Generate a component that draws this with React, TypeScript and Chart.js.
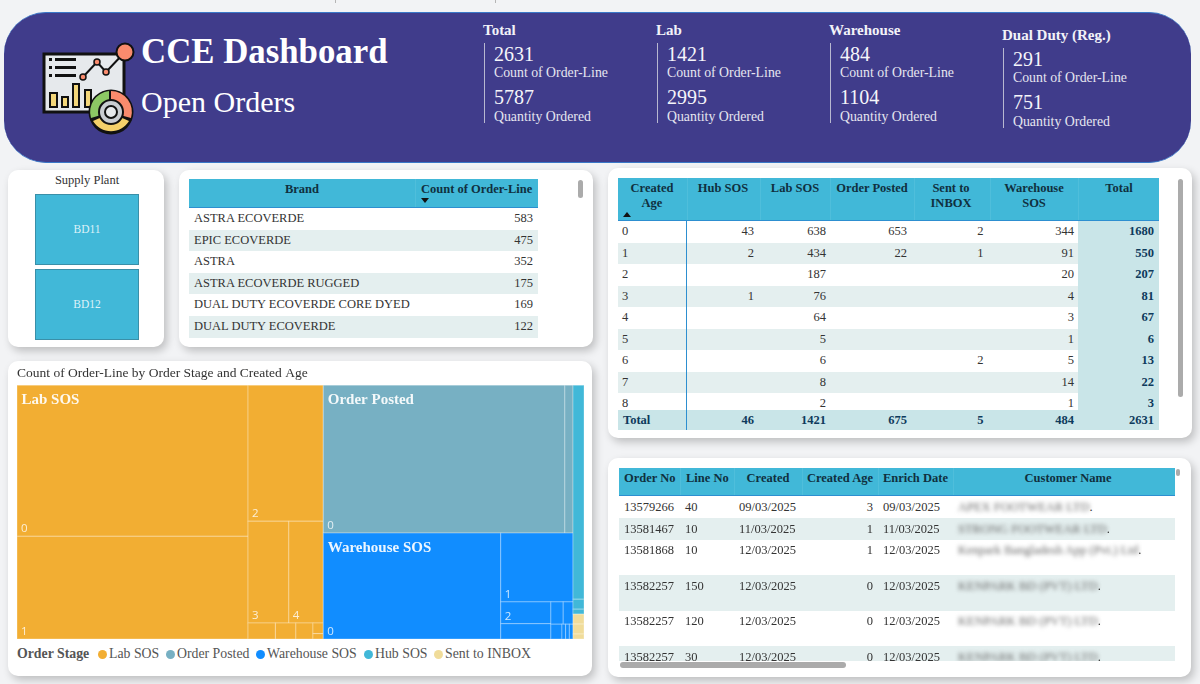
import { useEffect, useRef } from 'react';
import type { CSSProperties, ReactNode } from 'react';
import { Chart, registerables } from 'chart.js';

Chart.register(...registerables);

const SERIF = '"Liberation Serif", "Times New Roman", serif';
const SANS = '"Open Sans", sans-serif';

// header kpis
const kpiTitles = ['Total', 'Lab', 'Warehouse', 'Dual Duty (Reg.)'];
const kpiCounts = [2631, 1421, 484, 291];
const kpiQuantities = [5787, 2995, 1104, 751];

// brand table
const brandNames = ['ASTRA ECOVERDE', 'EPIC ECOVERDE', 'ASTRA', 'ASTRA ECOVERDE RUGGED', 'DUAL DUTY ECOVERDE CORE DYED', 'DUAL DUTY ECOVERDE'];
const brandCounts = [583, 475, 352, 175, 169, 122];
const supplyPlants = ['BD11', 'BD12'];

// matrix
const matrixAges = ['0', '1', '2', '3', '4', '5', '6', '7', '8'];
const matrixHub = ['43', '2', '', '1', '', '', '', '', ''];
const matrixLab = ['638', '434', '187', '76', '64', '5', '6', '8', '2'];
const matrixPosted = ['653', '22', '', '', '', '', '', '', ''];
const matrixInbox = ['2', '1', '', '', '', '', '2', '', ''];
const matrixWarehouse = ['344', '91', '20', '4', '3', '1', '5', '14', '1'];
const matrixTotal = ['1680', '550', '207', '81', '67', '6', '13', '22', '3'];
const matrixFooter = ['46', '1421', '675', '5', '484', '2631'];

// order detail table
const orderNumbers = ['13579266', '13581467', '13581868', '13582257', '13582257', '13582257'];
const lineNumbers = ['40', '10', '10', '150', '120', '30'];
const createdDates = ['09/03/2025', '11/03/2025', '12/03/2025', '12/03/2025', '12/03/2025', '12/03/2025'];
const createdAges = ['3', '1', '1', '0', '0', '0'];
const enrichDates = ['09/03/2025', '11/03/2025', '12/03/2025', '12/03/2025', '12/03/2025', '12/03/2025'];
const customers = ['APEX FOOTWEAR LTD', 'STRONG FOOTWEAR LTD', 'Kenpark Bangladesh App (Pvt.) Ltd', 'KENPARK BD (PVT) LTD', 'KENPARK BD (PVT) LTD', 'KENPARK BD (PVT) LTD'];

// treemap
const stageNames = ['Lab SOS', 'Order Posted', 'Warehouse SOS', 'Hub SOS', 'Sent to INBOX'];
const stageColors = ['#F2AE33', '#77B0C3', '#118DFF', '#41B8D8', '#F0DC9A'];
const labAges = ['0', '1', '2', '3', '4', '7', '6', '5', '8', '9'];
const labCounts = [638, 434, 187, 76, 64, 8, 6, 5, 2, 1];
const postedAges = ['0', '1'];
const postedCounts = [653, 22];
const warehouseAges = ['0', '1', '2', '7', '6', '3', '4', '5', '8', '9'];
const warehouseCounts = [344, 91, 20, 14, 5, 4, 3, 1, 1, 1];
const hubAges = ['0', '1', '3'];
const hubCounts = [43, 2, 1];
const inboxAges = ['0', '6', '1'];
const inboxCounts = [2, 2, 1];

// how the cells nest: a number is a leaf index, 'h' splits left to right, 'v' top to bottom
type Split = number | { dir: 'h' | 'v'; kids: Split[] };
const h = (...kids: Split[]): Split => ({ dir: 'h', kids });
const v = (...kids: Split[]): Split => ({ dir: 'v', kids });

const stageSplit = h(0, v(1, 2), v(3, 4));
const labSplit = h(v(0, 1), v(2, h(3, 4), h(5, 6, 7, v(8, 9))));
const postedSplit = h(0, 1);
const warehouseSplit = h(0, v(1, h(v(2, 3), v(h(4, 5), h(6, 7, 8, 9)))));
const hubSplit = v(0, 1, 2);
const inboxSplit = v(0, 1, 2);

const stageLeaves = [
  { ages: labAges, counts: labCounts, split: labSplit },
  { ages: postedAges, counts: postedCounts, split: postedSplit },
  { ages: warehouseAges, counts: warehouseCounts, split: warehouseSplit },
  { ages: hubAges, counts: hubCounts, split: hubSplit },
  { ages: inboxAges, counts: inboxCounts, split: inboxSplit },
];

interface Box { x0: number; x1: number; y0: number; y1: number }

function splitSum(s: Split, vals: number[]): number {
  if (typeof s === 'number') return vals[s];
  return s.kids.reduce((a, k) => a + splitSum(k, vals), 0);
}

function layout(s: Split, vals: number[], box: Box, out: Map<number, Box>) {
  if (typeof s === 'number') {
    out.set(s, box);
    return;
  }
  const total = splitSum(s, vals);
  let pos = s.dir === 'h' ? box.x0 : box.y0;
  const span = s.dir === 'h' ? box.x1 - box.x0 : box.y1 - box.y0;
  s.kids.forEach((k) => {
    const next = pos + (span * splitSum(k, vals)) / total;
    layout(k, vals, s.dir === 'h' ? { ...box, x0: pos, x1: next } : { ...box, y0: pos, y1: next }, out);
    pos = next;
  });
}

function treemapDatasets() {
  const stageTotals = stageLeaves.map((s) => s.counts.reduce((a, b) => a + b, 0));
  const stageBoxes = new Map<number, Box>();
  layout(stageSplit, stageTotals, { x0: 0, x1: 1, y0: 0, y1: 1 }, stageBoxes);
  return stageNames.map((name, i) => {
    const cells = new Map<number, Box>();
    layout(stageLeaves[i].split, stageLeaves[i].counts, stageBoxes.get(i) as Box, cells);
    return {
      label: name,
      pointRadius: 0,
      backgroundColor: stageColors[i],
      data: stageLeaves[i].ages.map((age, j) => {
        const b = cells.get(j) as Box;
        return { x: (b.x0 + b.x1) / 2, y: (b.y0 + b.y1) / 2, age, ...b };
      }),
    };
  });
}

const treemapPlugin = {
  id: 'treemapCells',
  beforeDatasetsDraw(chart: any) {
    const { ctx, scales } = chart;
    const sx = (n: number) => scales.x.getPixelForValue(n);
    const sy = (n: number) => scales.y.getPixelForValue(n);
    ctx.save();
    chart.data.datasets.forEach((ds: any) => {
      ds.data.forEach((c: any) => {
        const x = sx(c.x0);
        const y = sy(c.y0);
        const w = sx(c.x1) - x;
        const ht = sy(c.y1) - y;
        ctx.fillStyle = ds.backgroundColor;
        ctx.fillRect(x, y, w, ht);
        ctx.strokeStyle = 'rgba(255,255,255,0.3)';
        ctx.lineWidth = 1;
        ctx.strokeRect(x, y, w, ht);
        if (w >= 25 && ht >= 20) {
          ctx.fillStyle = 'rgba(255,255,255,0.8)';
          ctx.font = `11.5px ${SANS}`;
          ctx.textAlign = 'left';
          ctx.textBaseline = 'alphabetic';
          ctx.fillText(c.age, x + 4, y + ht - 4);
        }
      });
    });
    // stage names go over the cells
    chart.data.datasets.slice(0, 3).forEach((ds: any) => {
      const x = Math.min(...ds.data.map((c: any) => sx(c.x0)));
      const y = Math.min(...ds.data.map((c: any) => sy(c.y0)));
      ctx.fillStyle = 'rgba(255,255,255,0.92)';
      ctx.font = `bold 15px ${SERIF}`;
      ctx.textAlign = 'left';
      ctx.textBaseline = 'alphabetic';
      ctx.fillText(ds.label, x + 4.5, y + 19);
    });
    ctx.restore();
  },
};

function TreemapChart() {
  const canvasRef = useRef<HTMLCanvasElement>(null);

  useEffect(() => {
    if (!canvasRef.current) return;
    const chart = new Chart(canvasRef.current, {
      type: 'scatter',
      data: { datasets: treemapDatasets() as any },
      options: {
        animation: false,
        responsive: true,
        maintainAspectRatio: false,
        layout: { padding: 0 },
        scales: {
          x: { display: false, min: 0, max: 1 },
          y: { display: false, min: 0, max: 1, reverse: true },
        },
        plugins: {
          legend: { display: false },
          tooltip: { enabled: false },
          title: {
            display: true,
            text: 'Count of Order-Line by Order Stage and Created Age',
            align: 'start',
            color: '#333333',
            font: { family: SERIF, size: 13.5, weight: 'normal', lineHeight: 1.2 },
            padding: { top: 0, bottom: 4 },
          },
        },
      },
      plugins: [treemapPlugin],
    });
    return () => chart.destroy();
  }, []);

  return (
    <div style={{ position: 'absolute', left: 17, top: 365, width: 567, height: 274 }}>
      <canvas ref={canvasRef} />
    </div>
  );
}

function Txt(props: { x: number; y: number; align?: 'left' | 'right' | 'center'; size?: number; bold?: boolean; color?: string; children: ReactNode; style?: CSSProperties }) {
  const { x, y, align = 'left', size = 12.5, bold, color = '#333', children, style } = props;
  const tx = align === 'left' ? '0' : align === 'right' ? '-100%' : '-50%';
  return (
    <div style={{ position: 'absolute', left: x, top: y, transform: `translate(${tx}, -50%)`, fontSize: size, fontWeight: bold ? 700 : 400, color, whiteSpace: 'nowrap', lineHeight: 1, ...style }}>
      {children}
    </div>
  );
}

function Rect({ x, y, w, ht, bg, style }: { x: number; y: number; w: number; ht: number; bg: string; style?: CSSProperties }) {
  return <div style={{ position: 'absolute', left: x, top: y, width: w, height: ht, background: bg, ...style }} />;
}

function Card({ x, y, w, ht }: { x: number; y: number; w: number; ht: number }) {
  return <Rect x={x} y={y} w={w} ht={ht} bg="#fff" style={{ borderRadius: 10, boxShadow: '3px 4px 9px rgba(0,0,0,0.22)' }} />;
}

const HEAD = '#41B8D8';
const ALT = '#E4EFEF';
const TOTAL_BG = '#C9E5E8';
const HEAD_TEXT = '#10303F';
const NAVY = '#0E3A5C';

function Icon() {
  return (
    <svg width="200" height="150" style={{ position: 'absolute', left: 0, top: 0 }}>
      <rect x="44" y="54" width="80" height="58" fill="#E6E9EC" stroke="#111" strokeWidth="3" />
      {[66, 74, 82].map((y) => (
        <g key={y}>
          <rect x="49" y={y - 8} width="3" height="3" fill="#111" />
          <rect x="55" y={y - 8} width="21" height="3" fill="#111" />
        </g>
      ))}
      <rect x="50" y="93" width="7" height="14" fill="#F4D77A" stroke="#111" strokeWidth="2" />
      <rect x="62" y="97" width="6" height="10" fill="#F4D77A" stroke="#111" strokeWidth="2" />
      <rect x="73" y="84" width="6" height="23" fill="#F4D77A" stroke="#111" strokeWidth="2" />
      <rect x="85" y="90" width="6" height="17" fill="#F4D77A" stroke="#111" strokeWidth="2" />
      <polyline points="83,77 97,62 106,72 124,53" fill="none" stroke="#111" strokeWidth="2" />
      <circle cx="83" cy="77" r="3" fill="#F98B6D" stroke="#111" strokeWidth="1.5" />
      <circle cx="97" cy="62" r="3" fill="#F98B6D" stroke="#111" strokeWidth="1.5" />
      <circle cx="106" cy="72" r="3" fill="#F98B6D" stroke="#111" strokeWidth="1.5" />
      <circle cx="125" cy="52" r="8.5" fill="#F98B6D" stroke="#111" strokeWidth="2" />
      <circle cx="111" cy="112" r="22.5" fill="#111" />
      <path d="M111 91 A21 21 0 0 1 131 118 L120 115 A10 10 0 0 0 111 102 Z" fill="#F98B6D" />
      <path d="M91 118 A21 21 0 0 1 109 91 L109 102 A10 10 0 0 0 101 115 Z" fill="#8CC864" />
      <path d="M93 121 A21 21 0 0 0 129 121 L120 117 A10 10 0 0 1 102 117 Z" fill="#F4D06A" />
      <circle cx="111" cy="112" r="12" fill="#C9CDD2" stroke="#111" strokeWidth="2" />
      <circle cx="111" cy="112" r="6" fill="#E6E9EC" stroke="#111" strokeWidth="2" />
    </svg>
  );
}

function Header() {
  const xs = [484, 657, 830, 1003];
  return (
    <>
      <div style={{ position: 'absolute', left: 4, top: 12, width: 1187, height: 151, background: '#403C8B', borderRadius: 42, borderTop: '1px solid #3A78C8', borderBottom: '1px solid #3A78C8', boxSizing: 'border-box' }} />
      <Icon />
      <Txt x={141} y={52} size={34.8} bold color="#fff">CCE Dashboard</Txt>
      <Txt x={141} y={102} size={30} color="#fff">Open Orders</Txt>
      {kpiTitles.map((t, i) => {
        const x = xs[i];
        const dy = i === 3 ? 5 : 0;
        const c = '#E6E6F0';
        return (
          <div key={t}>
            <Txt x={x - 1} y={30 + dy} size={15} bold color="#F2F2F8">{t}</Txt>
            <Rect x={x} y={43 + dy} w={1} ht={80} bg="#B8B8D0" />
            <Txt x={x + 10} y={54 + dy} size={20} color="#F5F5FA">{kpiCounts[i]}</Txt>
            <Txt x={x + 10} y={73 + dy} size={13.8} color={c}>Count of Order-Line</Txt>
            <Txt x={x + 10} y={97 + dy} size={20} color="#F5F5FA">{kpiQuantities[i]}</Txt>
            <Txt x={x + 10} y={117 + dy} size={13.8} color={c}>Quantity Ordered</Txt>
          </div>
        );
      })}
    </>
  );
}

function SupplyPlant() {
  return (
    <>
      <Card x={8} y={170} w={156} ht={177} />
      <Txt x={87} y={180} align="center" size={12.5}>Supply Plant</Txt>
      {supplyPlants.map((p, i) => (
        <div key={p}>
          <Rect x={35} y={194 + i * 75} w={104} ht={71} bg={HEAD} style={{ border: '1px solid #3A8FA8', boxSizing: 'border-box' }} />
          <Txt x={87} y={229.5 + i * 75} align="center" size={11.5} color="#DDF2F8">{p}</Txt>
        </div>
      ))}
    </>
  );
}

function BrandTable() {
  const rowH = 21.6;
  return (
    <>
      <Card x={179} y={170} w={414} ht={177} />
      <Rect x={189} y={179} w={349} ht={29} bg={HEAD} style={{ borderBottom: '1px solid #2D8FD0', boxSizing: 'border-box' }} />
      <Rect x={415} y={179} w={1} ht={28} bg="#4FBEDB" />
      <Txt x={302} y={188.5} align="center" bold color={HEAD_TEXT}>Brand</Txt>
      <Txt x={421} y={188.5} bold color={HEAD_TEXT}>Count of Order-Line</Txt>
      <div style={{ position: 'absolute', left: 421, top: 198, width: 0, height: 0, borderLeft: '4px solid transparent', borderRight: '4px solid transparent', borderTop: '5px solid #111' }} />
      {brandNames.map((b, i) => (
        <div key={b}>
          <Rect x={189} y={208 + i * rowH} w={349} ht={rowH} bg={i % 2 ? ALT : '#fff'} />
          <Txt x={194} y={218 + i * rowH}>{b}</Txt>
          <Txt x={533} y={218 + i * rowH} align="right">{brandCounts[i]}</Txt>
        </div>
      ))}
      <Rect x={578} y={180} w={5} ht={18} bg="#ABABAB" style={{ borderRadius: 3 }} />
    </>
  );
}

function Matrix() {
  const rowH = 21.5;
  const top = 221;
  const cols = [matrixHub, matrixLab, matrixPosted, matrixInbox, matrixWarehouse];
  const rights = [754, 826, 907, 983.5, 1074, 1154];
  return (
    <>
      <Card x={608} y={168} w={584} ht={270} />
      <Rect x={618} y={178} w={541} ht={43} bg={HEAD} style={{ borderBottom: '1px solid #2D8FD0', boxSizing: 'border-box' }} />
      {[687, 760, 830, 914, 990, 1078].map((x) => (
        <Rect key={x} x={x} y={178} w={1} ht={42} bg="#4FBEDB" />
      ))}
      <Txt x={652} y={187.5} align="center" bold color={HEAD_TEXT}>Created</Txt>
      <Txt x={652} y={202.5} align="center" bold color={HEAD_TEXT}>Age</Txt>
      <div style={{ position: 'absolute', left: 623, top: 212, width: 0, height: 0, borderLeft: '4px solid transparent', borderRight: '4px solid transparent', borderBottom: '5px solid #111' }} />
      <Txt x={723} y={187.5} align="center" bold color={HEAD_TEXT}>Hub SOS</Txt>
      <Txt x={795} y={187.5} align="center" bold color={HEAD_TEXT}>Lab SOS</Txt>
      <Txt x={872} y={187.5} align="center" bold color={HEAD_TEXT}>Order Posted</Txt>
      <Txt x={951} y={187.5} align="center" bold color={HEAD_TEXT}>Sent to</Txt>
      <Txt x={951} y={202.5} align="center" bold color={HEAD_TEXT}>INBOX</Txt>
      <Txt x={1034} y={187.5} align="center" bold color={HEAD_TEXT}>Warehouse</Txt>
      <Txt x={1034} y={202.5} align="center" bold color={HEAD_TEXT}>SOS</Txt>
      <Txt x={1119} y={187.5} align="center" bold color={HEAD_TEXT}>Total</Txt>
      {matrixAges.map((age, i) => {
        const y = top + i * rowH;
        return (
          <div key={age}>
            <Rect x={618} y={y} w={460} ht={rowH} bg={i % 2 ? ALT : '#fff'} />
            <Rect x={1078} y={y} w={81} ht={rowH} bg={TOTAL_BG} />
            <Txt x={622} y={y + 10}>{age}</Txt>
            {cols.map((c, j) => (
              <Txt key={j} x={rights[j]} y={y + 10} align="right">{c[i]}</Txt>
            ))}
            <Txt x={rights[5]} y={y + 10} align="right" bold color={NAVY}>{matrixTotal[i]}</Txt>
          </div>
        );
      })}
      <Rect x={618} y={410} w={541} ht={20} bg={TOTAL_BG} />
      <Txt x={623} y={419.5} bold color={NAVY}>Total</Txt>
      {matrixFooter.map((t, j) => (
        <Txt key={j} x={rights[j]} y={419.5} align="right" bold color={NAVY}>{t}</Txt>
      ))}
      <Rect x={686} y={221} w={1} ht={209} bg="#2D8FD0" />
      <Rect x={1178} y={179} w={5} ht={218} bg="#ABABAB" style={{ borderRadius: 3 }} />
    </>
  );
}

function DetailTable() {
  const tops = [496, 518, 540, 575, 611, 646];
  const heights = [22, 22, 35, 36, 35, 36];
  const centers = [506.5, 528.5, 550, 585.5, 621, 656.5];
  return (
    <>
      <Card x={608} y={458} w={583} ht={219} />
      <Rect x={619} y={468} w={556} ht={28} bg={HEAD} style={{ borderBottom: '1px solid #2D8FD0', boxSizing: 'border-box' }} />
      {[680, 734, 802, 878, 953].map((x) => (
        <Rect key={x} x={x} y={468} w={1} ht={27} bg="#4FBEDB" />
      ))}
      <Txt x={624} y={477.5} bold color={HEAD_TEXT}>Order No</Txt>
      <Txt x={686} y={477.5} bold color={HEAD_TEXT}>Line No</Txt>
      <Txt x={768} y={477.5} align="center" bold color={HEAD_TEXT}>Created</Txt>
      <Txt x={873} y={477.5} align="right" bold color={HEAD_TEXT}>Created Age</Txt>
      <Txt x={883} y={477.5} bold color={HEAD_TEXT}>Enrich Date</Txt>
      <Txt x={1068} y={477.5} align="center" bold color={HEAD_TEXT}>Customer Name</Txt>
      <div style={{ position: 'absolute', left: 0, top: 0, width: 1200, height: 661, overflow: 'hidden' }}>
        {orderNumbers.map((o, i) => {
          const y = centers[i];
          return (
            <div key={i}>
              <Rect x={619} y={tops[i]} w={556} ht={heights[i]} bg={i % 2 ? ALT : '#fff'} />
              <Txt x={624} y={y}>{o}</Txt>
              <Txt x={685} y={y}>{lineNumbers[i]}</Txt>
              <Txt x={739} y={y}>{createdDates[i]}</Txt>
              <Txt x={873} y={y} align="right">{createdAges[i]}</Txt>
              <Txt x={883} y={y}>{enrichDates[i]}</Txt>
              <Txt x={958} y={y}>
                <span style={{ filter: 'blur(2px)', display: 'inline-block', color: '#666' }}>{customers[i]}</span>.
              </Txt>
            </div>
          );
        })}
      </div>
      <Rect x={620} y={662} w={226} ht={6} bg="#ABABAB" style={{ borderRadius: 3 }} />
      <Rect x={1176} y={469} w={4} ht={7} bg="#ABABAB" style={{ borderRadius: 2 }} />
    </>
  );
}

function TreemapLegend() {
  const dotX = [102, 170, 260, 368, 438];
  return (
    <>
      <Txt x={17} y={654} size={13.8} bold color="#555">Order Stage</Txt>
      {stageNames.map((s, i) => (
        <div key={s}>
          <div style={{ position: 'absolute', left: dotX[i] - 4.5, top: 650, width: 9, height: 9, borderRadius: '50%', background: stageColors[i] }} />
          <Txt x={dotX[i] + 7} y={654} size={13.8} color="#555">{s}</Txt>
        </div>
      ))}
    </>
  );
}

export default function App() {
  useEffect(() => {
    document.body.style.margin = '0';
  }, []);

  return (
    <div style={{ position: 'absolute', left: 0, top: 0, width: 1200, height: 684, overflow: 'hidden', background: '#F2F3F5', fontFamily: SERIF }}>
      <Rect x={335} y={0} w={1} ht={3} bg="#B5B5B5" />
      <Rect x={495} y={0} w={1} ht={3} bg="#B5B5B5" />
      <Header />
      <SupplyPlant />
      <BrandTable />
      <Card x={8} y={361} w={584} ht={315} />
      <TreemapChart />
      <TreemapLegend />
      <Matrix />
      <DetailTable />
    </div>
  );
}
